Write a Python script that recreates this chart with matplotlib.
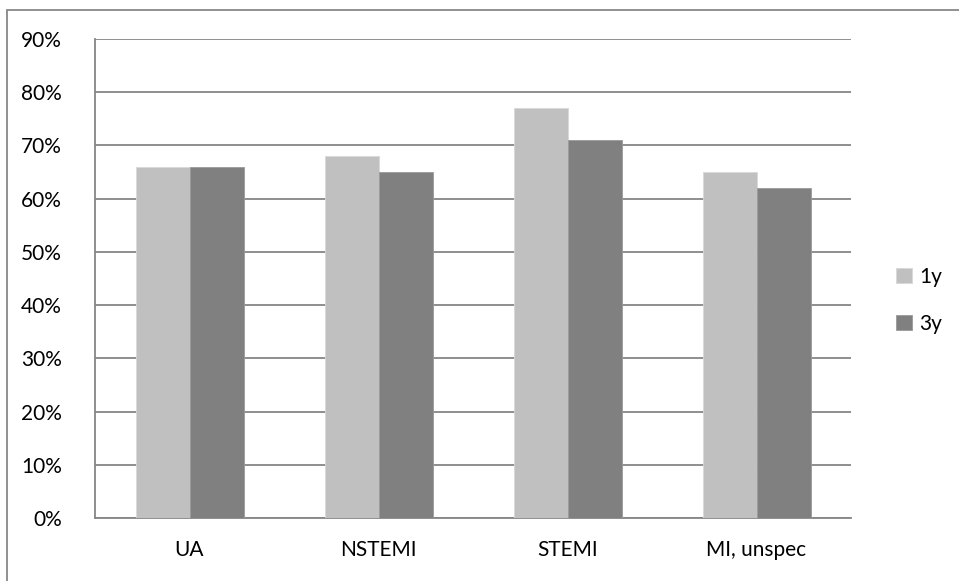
import matplotlib.pyplot as plt
from matplotlib.patches import Rectangle
from matplotlib.ticker import FuncFormatter
import numpy as np

plt.rcParams['font.family'] = ['Lato', 'DejaVu Sans']

categories = ['UA', 'NSTEMI', 'STEMI', 'MI, unspec']
one_year = [66, 68, 77, 65]
three_year = [66, 65, 71, 62]
series_names = ['1y', '3y']

light = '#c0c0c0'
dark = '#808080'
grid_c = '#868686'

fig = plt.figure(figsize=(9.59, 5.81), dpi=100)
ax = fig.add_axes([95 / 959, 1 - 518 / 581, (851 - 95) / 959, (518 - 39) / 581])

x = np.arange(len(categories))
w = 1 / 3.5
b1 = ax.bar(x - w / 2, one_year, w, color=light, edgecolor='#d8d8d8', linewidth=0.6, zorder=3)
b2 = ax.bar(x + w / 2, three_year, w, color=dark, edgecolor='#999999', linewidth=0.6, zorder=3)

ax.set_xlim(-0.5, len(categories) - 0.5)
ax.set_ylim(0, 90)
ax.set_yticks(range(0, 91, 10))
ax.yaxis.set_major_formatter(FuncFormatter(lambda v, _: f'{v:.0f}%'))
ax.set_xticks(x)
ax.set_xticklabels(categories)
ax.tick_params(axis='both', length=0, labelsize=15, colors='black')
ax.tick_params(axis='y', pad=24)
ax.tick_params(axis='x', pad=16)

ax.grid(axis='y', color=grid_c, linewidth=1.3, zorder=0)
for side in ['top', 'right']:
    ax.spines[side].set_visible(False)
for side in ['left', 'bottom']:
    ax.spines[side].set_color(grid_c)
    ax.spines[side].set_linewidth(1.3)

ax.legend([b1, b2], series_names, loc='center left', bbox_to_anchor=(1.035, 0.455),
          frameon=False, fontsize=15, handlelength=0.75, handleheight=0.75,
          handletextpad=0.35, labelspacing=1.3)

# outer frame of the chart area
fig.patches.append(Rectangle((7 / 959, -0.05), 1.1, 1 - 9.5 / 581 + 0.05,
                             transform=fig.transFigure, fill=False,
                             edgecolor='#888888', linewidth=1.3))

fig.savefig('out.png', dpi=100)
